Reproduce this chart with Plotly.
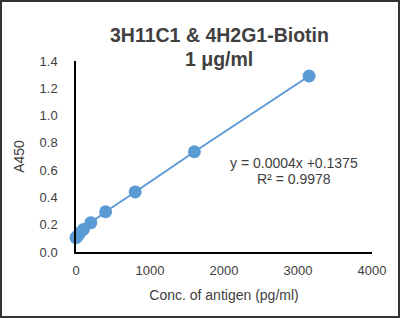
import plotly.graph_objects as go

conc = [0, 25, 50, 100, 200, 400, 800, 1600, 3150]
a450 = [0.105, 0.12, 0.14, 0.165, 0.215, 0.295, 0.44, 0.735, 1.29]
x_ticks = [0, 1000, 2000, 3000, 4000]
y_ticks = [0.0, 0.2, 0.4, 0.6, 0.8, 1.0, 1.2, 1.4]
title_lines = ["3H11C1 & 4H2G1-Biotin", "1 μg/ml"]
eq_lines = ["y = 0.0004x +0.1375", "R² = 0.9978"]

W, H = 400, 318
L, R, T, B = 76, 28, 61, 66
pw, ph = W - L - R, H - T - B

fig = go.Figure()
fig.add_trace(go.Scatter(
    x=conc, y=a450, mode="lines+markers",
    line=dict(color="#5B9BD5", width=2),
    marker=dict(color="#5B9BD5", size=13),
    cliponaxis=False, showlegend=False,
))

font = "Liberation Sans, Arial, sans-serif"
fig.update_layout(
    width=W, height=H,
    margin=dict(l=L, r=R, t=T, b=B),
    paper_bgcolor="white", plot_bgcolor="white",
    font=dict(family=font, color="#404040", size=13),
    xaxis=dict(range=[0, 4000], tickvals=x_ticks, ticktext=[str(v) for v in x_ticks],
               showgrid=False, zeroline=False, showline=True, linecolor="black", linewidth=1.5,
               ticks="", ticklabelstandoff=6,
               title=dict(text="Conc. of antigen (pg/ml)", font=dict(size=14), standoff=13)),
    yaxis=dict(range=[0, 1.4], tickvals=y_ticks, ticktext=[f"{v:.1f}" for v in y_ticks],
               showgrid=False, zeroline=False, showline=True, linecolor="black", linewidth=1.5,
               ticks="", ticklabelstandoff=14,
               title=dict(text="A450", font=dict(size=14), standoff=12)),
)

for txt, py in zip(title_lines, [35, 59]):
    fig.add_annotation(text="<b>" + txt + "</b>", x=(219 - L) / pw, y=(H - B - py) / ph,
                       xref="paper", yref="paper", showarrow=False,
                       xanchor="center", yanchor="middle",
                       font=dict(size=19.5, color="#404040", family=font))

for txt, py in zip(eq_lines, [163, 179]):
    fig.add_annotation(text=txt, x=(294 - L) / pw, y=(H - B - py) / ph,
                       xref="paper", yref="paper", showarrow=False,
                       xanchor="center", yanchor="middle",
                       font=dict(size=14, color="#404040", family=font))

fig.add_shape(type="rect", xref="paper", yref="paper",
              x0=(1 - L) / pw, x1=(W - 1 - L) / pw,
              y0=(H - B - (H - 1)) / ph, y1=(H - B - 1) / ph,
              line=dict(color="#333333", width=2))

fig.write_html("out.html")
